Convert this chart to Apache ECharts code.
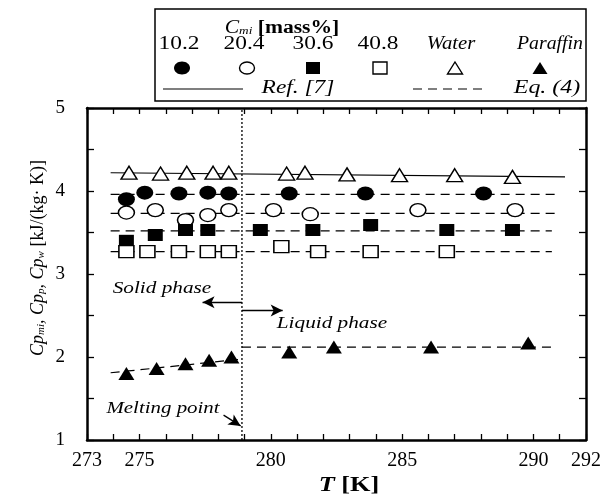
<!DOCTYPE html>
<html>
<head>
<meta charset="utf-8">
<script src="https://cdn.jsdelivr.net/npm/echarts@6/dist/echarts.min.js"></script>
<style>
html,body{margin:0;padding:0;background:#fff;}
#c{width:610px;height:496px;}
</style>
</head>
<body>
<div id="c"></div>
<script>
// ---- data ----
const xTickLabels = [273, 275, 280, 285, 290, 292];
const yTickLabels = [1, 2, 3, 4, 5];
const meltingT = 278.9;

const waterT  = [274.6, 275.8, 276.8, 277.8, 278.4, 280.6, 281.3, 282.9, 284.9, 287.0, 289.2];
const waterCp = [4.22, 4.21, 4.22, 4.22, 4.22, 4.21, 4.22, 4.20, 4.19, 4.19, 4.17];

const m102T  = [274.5, 275.2, 276.5, 277.6, 278.4, 280.7, 283.6, 288.1];
const m102Cp = [3.90, 3.98, 3.97, 3.98, 3.97, 3.97, 3.97, 3.97];

const m204T  = [274.5, 275.6, 276.75, 277.6, 278.4, 280.1, 281.5, 285.6, 289.3];
const m204Cp = [3.74, 3.77, 3.65, 3.71, 3.77, 3.77, 3.72, 3.77, 3.77];

const m306T  = [274.5, 275.6, 276.75, 277.6, 279.6, 281.6, 283.8, 286.7, 289.2];
const m306Cp = [3.40, 3.47, 3.53, 3.53, 3.53, 3.53, 3.59, 3.53, 3.53];

const m408T  = [274.5, 275.3, 276.5, 277.6, 278.4, 280.4, 281.8, 283.8, 286.7];
const m408Cp = [3.27, 3.27, 3.27, 3.27, 3.27, 3.33, 3.27, 3.27, 3.27];

const parT  = [274.5, 275.65, 276.75, 277.65, 278.5, 280.7, 282.4, 286.1, 289.8];
const parCp = [1.80, 1.86, 1.92, 1.96, 2.00, 2.06, 2.12, 2.12, 2.17];

// reference / equation lines (endpoints)
const refWaterT  = [273.9, 291.2];
const refWaterCp = [4.22, 4.17];
const eq102T = [273.9, 291.0], eq102Cp = [3.96, 3.96];
const eq204T = [273.9, 291.0], eq204Cp = [3.73, 3.73];
const eq306T = [273.9, 290.7], eq306Cp = [3.52, 3.52];
const eq408T = [273.9, 290.7], eq408Cp = [3.27, 3.27];
const eqParSolidT = [273.9, 278.75], eqParSolidCp = [1.81, 1.97];
const eqParLiqT = [278.9, 290.7], eqParLiqCp = [2.12, 2.12];

const zip = (a, b) => a.map((v, i) => [v, b[i]]);

const FONT = '"Liberation Serif", "DejaVu Serif", serif';
const chart = echarts.init(document.getElementById('c'));

function scatter(name, T, Cp, symbol, filled, size) {
  return {
    name, type: 'scatter', data: zip(T, Cp), symbol, symbolSize: size,
    itemStyle: filled ? {color: '#000', opacity: 1} : {color: '#fff', borderColor: '#000', borderWidth: 1.4, opacity: 1},
    z: 5
  };
}
function line(T, Cp, dashed) {
  return {
    type: 'line', data: zip(T, Cp), symbol: 'none', silent: true,
    lineStyle: {color: '#000', width: 1.2, type: dashed ? [9, 6] : 'solid'}, z: 3
  };
}
function txt(x, y, s, font, sx) {
  return {type: 'text', x, y, scaleX: sx || 1, z: 11,
    style: {text: s, font: font, align: 'center', verticalAlign: 'middle', fill: '#000'}};
}

const option = {
  animation: false,
  textStyle: {fontFamily: FONT},
  grid: {left: 87, top: 108, right: 24, bottom: 56},
  xAxis: [{
    type: 'value', min: 273, max: 292, interval: 1,
    axisLine: {lineStyle: {color: '#000', width: 2.5}},
    axisTick: {inside: true, length: 6, lineStyle: {color: '#000', width: 1.3}},
    axisLabel: {color: '#000', fontSize: 20, fontFamily: FONT, margin: 11,
      formatter: v => xTickLabels.indexOf(Math.round(v)) >= 0 ? String(Math.round(v)) : ''},
    splitLine: {show: false}
  }, {
    type: 'value', position: 'top', min: 273, max: 292, interval: 1,
    axisLine: {lineStyle: {color: '#000', width: 2.5}},
    axisTick: {inside: true, length: 6, lineStyle: {color: '#000', width: 1.3}},
    axisLabel: {show: false}, splitLine: {show: false}
  }],
  yAxis: [{
    type: 'value', min: 1, max: 5, interval: 0.5,
    axisLine: {lineStyle: {color: '#000', width: 2.5}},
    axisTick: {inside: true, length: 7, lineStyle: {color: '#000', width: 1.3}},
    axisLabel: {color: '#000', fontSize: 19, fontFamily: FONT, margin: 22,
      formatter: v => yTickLabels.indexOf(v) >= 0 ? String(v) : ''},
    splitLine: {show: false}
  }, {
    type: 'value', position: 'right', min: 1, max: 5, interval: 0.5,
    axisLine: {lineStyle: {color: '#000', width: 2.5}},
    axisTick: {inside: true, length: 7, lineStyle: {color: '#000', width: 1.3}},
    axisLabel: {show: false}, splitLine: {show: false}
  }],
  series: [
    line(refWaterT, refWaterCp, false),
    line(eq102T, eq102Cp, true),
    line(eq204T, eq204Cp, true),
    line(eq306T, eq306Cp, true),
    line(eq408T, eq408Cp, true),
    line(eqParSolidT, eqParSolidCp, true),
    line(eqParLiqT, eqParLiqCp, true),
    {
      type: 'line', data: [[meltingT, 1], [meltingT, 5]], symbol: 'none', silent: true,
      lineStyle: {color: '#000', width: 1.3, type: [2, 2]}, z: 2,
      markLine: {
        silent: true, symbol: ['none', 'arrow'], symbolSize: [9, 12],
        lineStyle: {color: '#000', width: 1.3, type: 'solid'}, label: {show: false},
        data: [
          [{coord: [meltingT, 2.66]}, {coord: [277.4, 2.66]}],
          [{coord: [meltingT, 2.56]}, {coord: [280.45, 2.56]}],
          [{coord: [278.2, 1.30]}, {coord: [meltingT - 0.05, 1.17]}]
        ]
      }
    },
    scatter('Water', waterT, waterCp, 'triangle', false, [16, 13]),
    scatter('10.2', m102T, m102Cp, 'circle', true, [17, 14]),
    scatter('20.4', m204T, m204Cp, 'circle', false, [16, 13]),
    scatter('30.6', m306T, m306Cp, 'rect', true, [15, 12]),
    scatter('40.8', m408T, m408Cp, 'rect', false, [15, 12]),
    scatter('Paraffin', parT, parCp, 'triangle', true, [16, 13])
  ],
  graphic: [
    // legend box
    {type: 'rect', shape: {x: 155, y: 9, width: 431, height: 92},
     style: {fill: '#fff', stroke: '#000', lineWidth: 1.5}, z: 10},
    {type: 'text', x: 282, y: 26, scaleX: 1.2, z: 11, style: {
      text: '{c|C}{s|mi}{b| [mass%]}', align: 'center', verticalAlign: 'middle',
      rich: {
        c: {fontFamily: FONT, fontStyle: 'italic', fontSize: 18, lineHeight: 22, verticalAlign: 'bottom'},
        s: {fontFamily: FONT, fontStyle: 'italic', fontSize: 11, lineHeight: 18, verticalAlign: 'bottom'},
        b: {fontFamily: FONT, fontWeight: 'bold', fontSize: 18, lineHeight: 22, verticalAlign: 'bottom'}
      }}},
    txt(179, 44, '10.2', '18px ' + FONT, 1.3),
    txt(244, 44, '20.4', '18px ' + FONT, 1.3),
    txt(313, 44, '30.6', '18px ' + FONT, 1.3),
    txt(378, 44, '40.8', '18px ' + FONT, 1.3),
    txt(451, 44, 'Water', 'italic 18px ' + FONT, 1.15),
    txt(550, 44, 'Paraffin', 'italic 18px ' + FONT, 1.1),
    {type: 'ellipse', shape: {cx: 182, cy: 68, rx: 8, ry: 6.5}, style: {fill: '#000'}, z: 11},
    {type: 'ellipse', shape: {cx: 247, cy: 68, rx: 7.5, ry: 6}, style: {fill: '#fff', stroke: '#000', lineWidth: 1.4}, z: 11},
    {type: 'rect', shape: {x: 306, y: 62, width: 14, height: 12}, style: {fill: '#000'}, z: 11},
    {type: 'rect', shape: {x: 373, y: 62, width: 14, height: 12}, style: {fill: '#fff', stroke: '#000', lineWidth: 1.4}, z: 11},
    {type: 'polygon', shape: {points: [[455, 62], [462.5, 74], [447.5, 74]]}, style: {fill: '#fff', stroke: '#000', lineWidth: 1.4}, z: 11},
    {type: 'polygon', shape: {points: [[540, 62], [547.5, 74], [532.5, 74]]}, style: {fill: '#000'}, z: 11},
    {type: 'line', shape: {x1: 163, y1: 89, x2: 243, y2: 89}, style: {stroke: '#000', lineWidth: 1.2}, z: 11},
    txt(298, 88, 'Ref. [7]', 'italic 18px ' + FONT, 1.3),
    {type: 'line', shape: {x1: 413, y1: 89, x2: 487, y2: 89}, style: {stroke: '#000', lineWidth: 1.2, lineDash: [9, 6]}, z: 11},
    txt(547, 88, 'Eq. (4)', 'italic 18px ' + FONT, 1.33),
    // annotations
    txt(162, 289, 'Solid phase', 'italic 17px ' + FONT, 1.25),
    txt(332, 324, 'Liquid phase', 'italic 17px ' + FONT, 1.25),
    txt(163, 409, 'Melting point', 'italic 17px ' + FONT, 1.23),
    // axis names
    {type: 'text', x: 349, y: 486, scaleX: 1.25, z: 11, style: {
      text: '{t|T}{k| [K]}', align: 'center', verticalAlign: 'middle',
      rich: {t: {fontFamily: FONT, fontStyle: 'italic', fontWeight: 'bold', fontSize: 21},
             k: {fontFamily: FONT, fontWeight: 'bold', fontSize: 21}}}},
    {type: 'text', x: 35, y: 258, rotation: Math.PI / 2, z: 11, style: {
      text: '{c|Cp}{s|mi}{c|, Cp}{s|p}{c|, Cp}{s|w}{n| [kJ/(kg· K)]}', align: 'center', verticalAlign: 'middle',
      rich: {
        c: {fontFamily: FONT, fontStyle: 'italic', fontSize: 18, lineHeight: 24, verticalAlign: 'bottom'},
        s: {fontFamily: FONT, fontStyle: 'italic', fontSize: 11, lineHeight: 18, verticalAlign: 'bottom'},
        n: {fontFamily: FONT, fontSize: 18, lineHeight: 24, verticalAlign: 'bottom'}
      }}}
  ]
};
chart.setOption(option);
</script>
</body>
</html>
